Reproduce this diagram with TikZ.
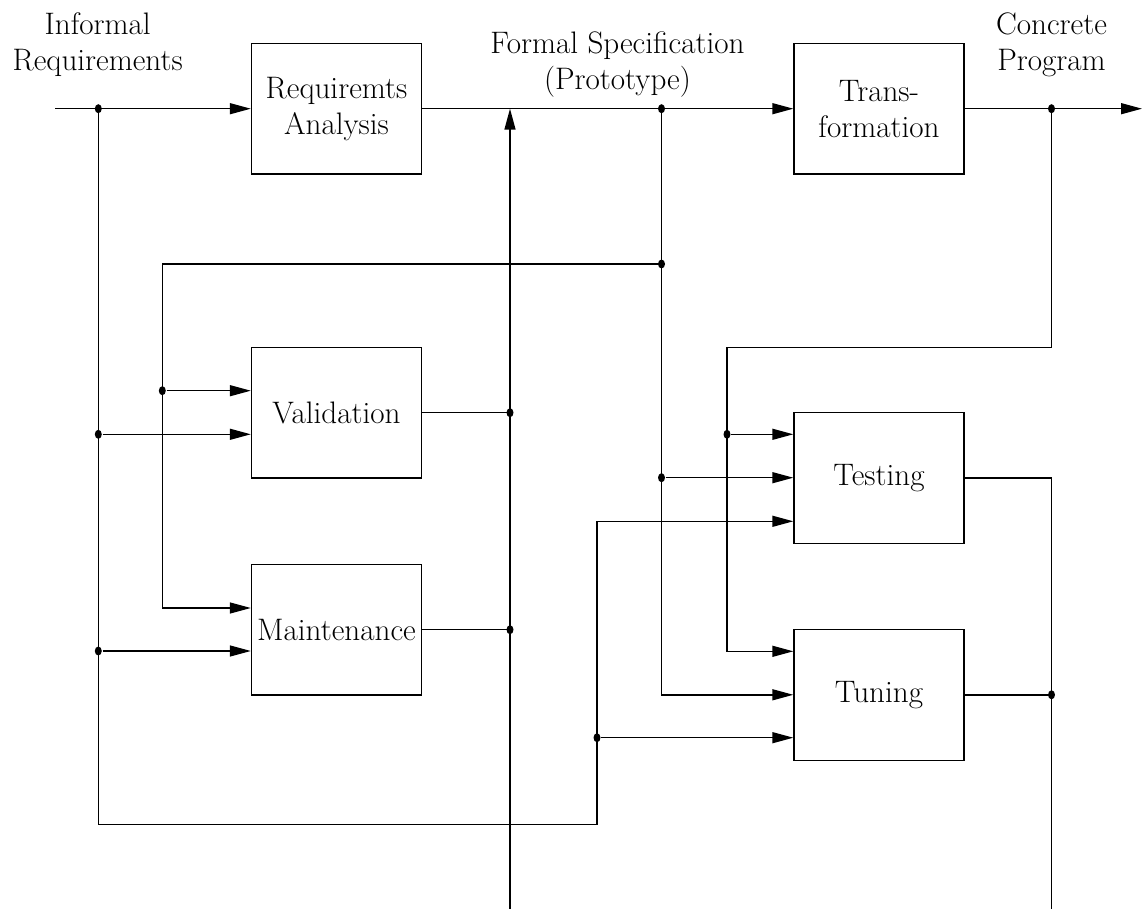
\documentclass[tikz,border=0pt]{standalone}
\usepackage{fontspec}
\usetikzlibrary{arrows.meta,shapes.geometric}
\begin{document}
\begin{tikzpicture}[x=0.02cm,y=-0.02cm,
  line width=0.8pt,
  every node/.style={font=\fontsize{17.7}{20.5}\selectfont},
  block/.style={draw, minimum width=3.4cm, minimum height=2.62cm, align=center, inner sep=0pt},
  caption/.style={align=center, inner sep=0pt},
  flow/.style={-{Triangle[length=0.42cm,width=0.22cm]}},
  joint/.style={fill, ellipse, inner sep=0pt, minimum width=0.14cm, minimum height=0.18cm}]
\useasboundingbox (0,0) rectangle (1144,909);

% process boxes
\node[block] (ra)   at (336.5,108.7) {Requiremts\\Analysis};
\node[block] (tf)   at (879,108.7)   {Trans-\\formation};
\node[block] (val)  at (336.5,412.7) {Validation};
\node[block] (mnt)  at (336.5,629.7) {Maintenance};
\node[block] (test) at (879,477.8)   {Testing};
\node[block] (tun)  at (879,694.8)   {Tuning};

% captions along the main line (base = baseline of the last line)
\node[caption, anchor=base] (inf)  at (97.7,70.7)  {Informal\\Requirements};
\node[caption, anchor=base] (spec) at (617.5,89.5) {Formal Specification\\(Prototype)};
\node[caption, anchor=base] (prog) at (1051.5,71)  {Concrete\\Program};

% free ends and corners
\coordinate (src)  at (55,108.7);
\coordinate (out)  at (1142,108.7);
\coordinate (fs)   at (510,108.7);
\coordinate (bot1) at (510,909);
\coordinate (bot2) at (1051.5,909);
\coordinate (loopL) at (98.3,824.3);
\coordinate (loopR) at (597,824.3);
\coordinate (valL) at (162.3,264);
\coordinate (tstR) at (1051.5,347.7);
\coordinate (tstL) at (727,347.7);

% junction dots
\node[joint] (jA)  at (98.3,108.7) {};
\node[joint] (jA1) at (98.3,434.3) {};
\node[joint] (jA2) at (98.3,651) {};
\node[joint] (jA3) at (597,737.7) {};
\node[joint] (jB)  at (661.5,108.7) {};
\node[joint] (jB1) at (661.5,264) {};
\node[joint] (jB2) at (162.3,390.7) {};
\node[joint] (jB3) at (661.5,477.7) {};
\node[joint] (jC)  at (1051.5,108.7) {};
\node[joint] (jC1) at (727,434.3) {};
\node[joint] (jD1) at (510,412.7) {};
\node[joint] (jD2) at (510,629.7) {};
\node[joint] (jE)  at (1051.5,694.8) {};

% main line
\draw[flow] (src) -- (ra);
\draw[flow] (ra) -- (tf);
\draw[flow] (tf) -- (out);

% informal requirements feed
\draw[flow] (jA.center) -- (loopL) -- (loopR) |- ([yshift=-0.87cm]test.west);
\draw[flow] (jA1) -- (jA1 -| val.west);
\draw[flow] (jA2) -- (jA2 -| mnt.west);
\draw[flow] (jA3) -- (jA3 -| tun.west);

% formal specification feed
\draw[flow] (jB.center) |- (tun.west);
\draw[flow] (jB1.center) -- (valL) |- ([yshift=0.434cm]mnt.west);
\draw[flow] (jB2) -- (jB2 -| val.west);
\draw[flow] (jB3) -- (jB3 -| test.west);

% concrete program feed
\draw[flow] (jC.center) -- (tstR) -- (tstL) |- ([yshift=0.87cm]tun.west);
\draw[flow] (jC1) -- (jC1 -| test.west);

% feedback into the specification
\draw (val) -- (jD1.center);
\draw (mnt) -- (jD2.center);
\draw[flow] (bot1) -- (fs);

% outputs of testing and tuning
\draw (test.east) -| (bot2);
\draw (tun) -- (jE.center);
\end{tikzpicture}
\end{document}
